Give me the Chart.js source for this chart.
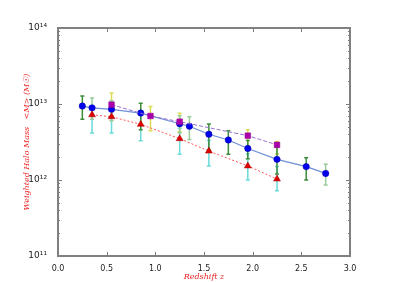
<!DOCTYPE html>
<html><head><meta charset="utf-8">
<script src="https://cdn.jsdelivr.net/npm/chart.js@4"></script>
<style>html,body{margin:0;padding:0;background:#fff}#w{width:399px;height:282px}</style>
</head><body><div id="w"><canvas id="c"></canvas></div>
<script>
// Blue circles
const blueZ   = [0.25, 0.35, 0.55, 0.85, 1.25, 1.35, 1.55, 1.75, 1.95, 2.25, 2.55, 2.75];
const blueM   = [9.4e12, 8.9e12, 8.5e12, 7.6e12, 5.5e12, 5.1e12, 4.0e12, 3.36e12, 2.6e12, 1.87e12, 1.5e12, 1.22e12];
const blueLo  = [6.3e12, 6.3e12, 6.0e12, 4.6e12, 4.2e12, 3.4e12, 2.48e12, 2.18e12, 1.9e12, 1.2e12, 1.0e12, 8.6e11];
const blueHi  = [1.27e13, 1.2e13, 1.1e13, 1.02e13, 7.0e12, 6.8e12, 5.46e12, 4.46e12, 3.3e12, 2.7e12, 1.96e12, 1.61e12];
const blueErrColor = ['#3c8c3c','#99cc99','#99cc99','#3c8c3c','#99cc99','#99cc99','#3c8c3c','#3c8c3c','#3c8c3c','#3c8c3c','#3c8c3c','#99cc99'];
// Red triangles
const redZ  = [0.35, 0.55, 0.85, 1.25, 1.55, 1.95, 2.25];
const redM  = [7.2e12, 6.8e12, 5.4e12, 3.5e12, 2.4e12, 1.53e12, 1.03e12];
const redLo = [4.15e12, 4.15e12, 3.29e12, 2.18e12, 1.53e12, 1.0e12, 7.2e11];
const redHi = [9.5e12, 9.0e12, 7.5e12, 4.8e12, 3.3e12, 2.2e12, 1.5e12];
// Magenta squares
const magZ  = [0.55, 0.95, 1.25, 1.95, 2.25];
const magM  = [9.8e12, 6.95e12, 5.85e12, 3.83e12, 2.9e12];
const magLo = [7.0e12, 4.46e12, 4.3e12, 2.8e12, 2.2e12];
const magHi = [1.4e13, 9.3e12, 7.55e12, 4.6e12, 3.2e12];
// Axis ticks
const xTicks = [0.0, 0.5, 1.0, 1.5, 2.0, 2.5, 3.0];
const yDecades = [11, 12, 13, 14];
const supers = {'0':'⁰','1':'¹','2':'²','3':'³','4':'⁴','5':'⁵','6':'⁶','7':'⁷','8':'⁸','9':'⁹'};

const pts = (xs, ys) => xs.map((x, i) => ({x: x, y: ys[i]}));

const errSets = [
  {z: redZ, lo: redLo, hi: redHi, color: () => '#6adada'},
  {z: magZ, lo: magLo, hi: magHi, color: () => '#dddd55'},
  {z: blueZ, lo: blueLo, hi: blueHi, color: i => blueErrColor[i]}
];

const errorBars = {
  id: 'errorBars',
  beforeDatasetsDraw(chart) {
    const {ctx, scales: {x, y}} = chart;
    ctx.save();
    ctx.lineWidth = 1.5;
    errSets.forEach(s => {
      s.z.forEach((z, i) => {
        const px = x.getPixelForValue(z);
        const p1 = y.getPixelForValue(s.lo[i]);
        const p2 = y.getPixelForValue(s.hi[i]);
        ctx.strokeStyle = s.color(i);
        ctx.beginPath();
        ctx.moveTo(px, p1); ctx.lineTo(px, p2);
        ctx.moveTo(px - 2, p1); ctx.lineTo(px + 2, p1);
        ctx.moveTo(px - 2, p2); ctx.lineTo(px + 2, p2);
        ctx.stroke();
      });
    });
    ctx.restore();
  }
};

const frame = {
  id: 'frame',
  afterDraw(chart) {
    const {ctx, chartArea: a, scales: {x, y}} = chart;
    ctx.save();
    ctx.strokeStyle = '#7a7a7a';
    ctx.lineWidth = 1;
    xTicks.forEach(v => {
      const px = Math.round(x.getPixelForValue(v)) + 0.5;
      ctx.beginPath();
      ctx.moveTo(px, a.bottom); ctx.lineTo(px, a.bottom - 4);
      ctx.moveTo(px, a.top); ctx.lineTo(px, a.top + 4);
      ctx.stroke();
    });
    for (let e = 11; e <= 13; e++) {
      for (let m = 1; m <= 9; m++) {
        const py = Math.round(y.getPixelForValue(m * Math.pow(10, e))) + 0.5;
        const len = m === 1 ? 4 : 2;
        ctx.beginPath();
        ctx.moveTo(a.left, py); ctx.lineTo(a.left + len, py);
        ctx.moveTo(a.right, py); ctx.lineTo(a.right - len, py);
        ctx.stroke();
      }
    }
    ctx.strokeStyle = '#808080';
    ctx.lineWidth = 2;
    ctx.strokeRect(a.left, a.top, a.right - a.left, a.bottom - a.top);
    ctx.restore();
  }
};

new Chart(document.getElementById('c'), {
  type: 'scatter',
  data: {
    datasets: [
      {label: 'red', data: pts(redZ, redM), showLine: true, borderColor: '#ff5555', borderWidth: 1, borderDash: [2, 2],
       pointStyle: 'triangle', pointRadius: 4, pointBackgroundColor: '#dd0000', pointBorderColor: '#aa0000', pointBorderWidth: 0.5},
      {label: 'mag', data: pts(magZ, magM), showLine: true, borderColor: '#9a70d0', borderWidth: 1, borderDash: [4, 2],
       pointStyle: 'rect', pointRadius: 4, pointBackgroundColor: '#aa00aa', pointBorderColor: '#990099', pointBorderWidth: 0.5},
      {label: 'blue', data: pts(blueZ, blueM), showLine: true, borderColor: '#6f8fd6', borderWidth: 1.2,
       pointStyle: 'circle', pointRadius: 3.2, pointBackgroundColor: '#0000ee', pointBorderColor: '#0000aa', pointBorderWidth: 0.5}
    ]
  },
  options: {
    responsive: true, maintainAspectRatio: false, animation: false,
    layout: {padding: {left: 0, top: 28, right: 49, bottom: 0}},
    plugins: {legend: {display: false}, tooltip: {enabled: false}},
    scales: {
      x: {
        type: 'linear', min: 0, max: 3,
        grid: {display: false}, border: {display: false},
        afterBuildTicks: s => { s.ticks = xTicks.map(v => ({value: v})); },
        ticks: {color: '#222', font: {family: 'DejaVu Sans', size: 8}, padding: 0, maxRotation: 0,
                callback: v => v.toFixed(1)},
        title: {display: true, text: 'Redshift z', color: '#ee2222',
                font: {family: 'DejaVu Serif', style: 'italic', size: 8}, padding: {top: 1, bottom: 0}},
        afterFit: s => { s.height = 26; }
      },
      y: {
        type: 'logarithmic', min: 1e11, max: 1e14,
        grid: {display: false}, border: {display: false},
        afterBuildTicks: s => { s.ticks = yDecades.map(e => ({value: Math.pow(10, e)})); },
        ticks: {color: '#222', font: {family: 'DejaVu Sans', size: 9}, padding: 3, autoSkip: false,
                callback: v => '10' + String(Math.round(Math.log10(v))).split('').map(c => supers[c]).join('')},
        title: {display: true, text: 'Weighted Halo Mass   <M> (M☉)', color: '#ee2222',
                font: {family: 'DejaVu Serif', style: 'italic', size: 8}, padding: {top: 22, bottom: 0}},
        afterFit: s => { s.width = 58; }
      }
    }
  },
  plugins: [errorBars, frame]
});
</script>
</body></html>
